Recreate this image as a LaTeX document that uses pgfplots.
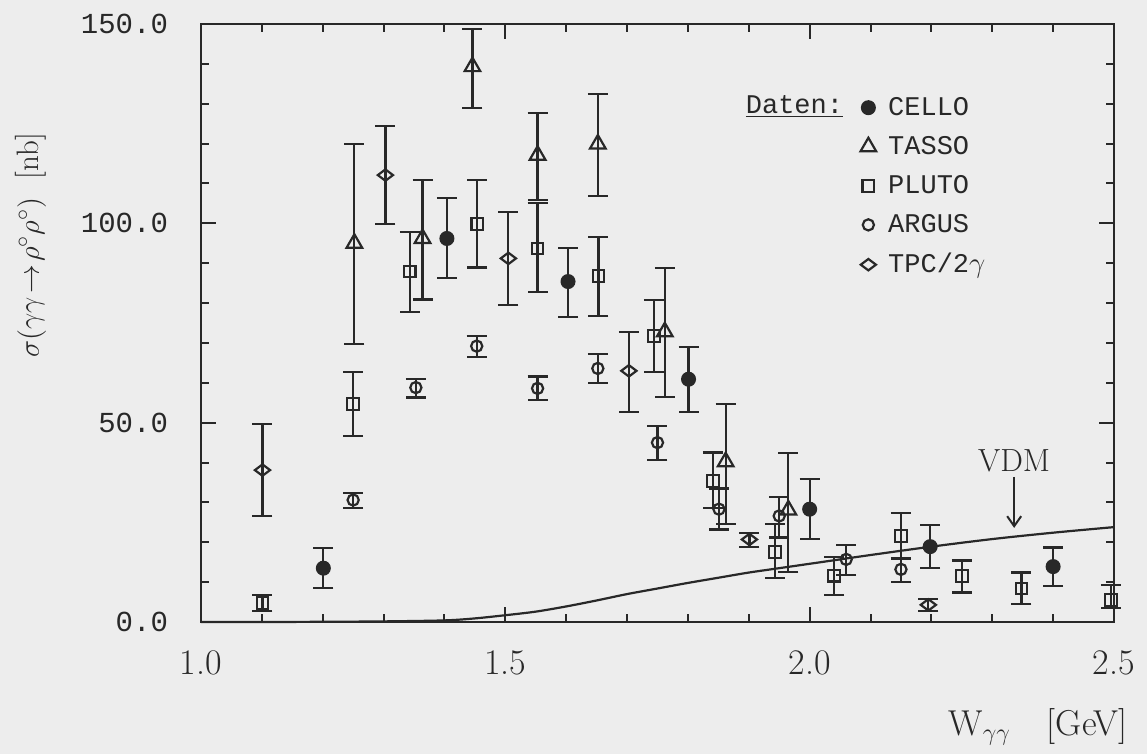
\documentclass[border=0pt]{standalone}
\usepackage{pgfplots}
\pgfplotsset{compat=1.18}
\usepackage{fontspec}
\usetikzlibrary{arrows.meta}
\newfontfamily\monofont{Liberation Mono}
\definecolor{ink}{RGB}{40,40,40}
\definecolor{paper}{RGB}{237,237,237}

\pgfplotstableread{
x y ep em
1.201 13.5 5.0 5.0
1.404 96.2 10.2 10.0
1.603 85.4 8.5 8.8
1.801 60.9 8.0 8.2
2.000 28.3 7.5 7.5
2.198 18.9 5.4 5.4
2.400 13.9 4.8 4.9
}\cello
\pgfplotstableread{
x y ep em
1.252 95.0 24.8 25.3
1.364 96.2 14.6 15.3
1.446 139.3 9.4 10.4
1.553 117.1 10.6 11.3
1.652 119.9 12.5 13.1
1.762 72.8 15.9 16.3
1.862 40.2 14.4 15.6
1.965 28.1 14.2 15.6
}\tasso
\pgfplotstableread{
x y ep em
1.101 4.8 2.0 2.0
1.250 54.7 8.1 8.0
1.343 87.9 10.0 10.1
1.454 99.8 11.0 10.9
1.553 93.7 11.3 11.0
1.653 86.8 9.7 10.0
1.744 71.7 9.1 8.9
1.841 35.4 7.1 6.9
1.943 17.6 6.9 6.5
2.040 11.6 4.8 4.8
2.150 21.6 5.8 5.8
2.250 11.5 3.9 4.1
2.348 8.4 4.0 3.9
2.495 5.5 3.8 1.9
}\pluto
\pgfplotstableread{
x y ep em
1.250 30.6 1.7 2.1
1.353 58.8 2.1 2.5
1.453 69.2 2.5 2.7
1.553 58.6 3.0 3.0
1.652 63.6 3.6 3.7
1.750 45.0 4.2 4.4
1.851 28.3 5.2 5.1
1.950 26.6 4.8 5.4
2.060 15.7 3.6 3.9
2.150 13.2 2.9 3.1
}\argus
\pgfplotstableread{
x y ep em
1.101 38.1 11.6 11.5
1.303 112.1 12.4 12.3
1.505 91.2 11.6 11.7
1.703 63.0 9.8 10.3
1.901 20.7 1.7 1.8
2.195 4.3 1.5 1.5
}\tpc
\pgfplotstableread{
x y
1.00 0.0
1.10 0.0
1.20 0.05
1.30 0.15
1.40 0.4
1.45 0.9
1.50 1.7
1.55 2.6
1.60 3.9
1.65 5.4
1.70 7.0
1.75 8.4
1.80 9.8
1.85 11.1
1.90 12.4
1.95 13.5
2.00 14.6
2.10 16.8
2.20 18.9
2.30 20.8
2.40 22.4
2.50 23.8
}\vdm

\begin{document}
\begin{tikzpicture}
\path[use as bounding box, fill=paper] (-100.5pt,-66pt) rectangle (473pt,311pt);
\begin{axis}[
  at={(0pt,0pt)}, anchor=south west,
  scale only axis, width=456.5pt, height=299pt,
  xmin=1.0, xmax=2.5, ymin=0, ymax=150,
  xtick={1.0,1.5,2.0,2.5}, xticklabels={1.0,1.5,2.0,2.5},
  ytick={0,50,100,150}, yticklabels={0.0,50.0,100.0,150.0},
  minor x tick num=4, minor y tick num=4,
  tick align=inside, major tick length=7.5pt, minor tick length=4pt,
  axis line style={ink, line width=1.2pt},
  tick style={ink, line width=1pt},
  xticklabel style={font=\fontsize{18}{18}\selectfont, text=ink, yshift=-11pt},
  yticklabel style={font=\monofont\fontsize{14.5}{14.5}\selectfont, text=ink, xshift=-13pt},
  clip=false,
  legend cell align=left,
  legend style={at={(rel axis cs:0.722,0.885)}, anchor=north west, draw=none, fill=none,
    font=\monofont\fontsize{13.5}{13.5}\selectfont, text=ink, row sep=5pt, inner sep=0pt,
    /tikz/every odd column/.append style={column sep=4pt}},
  dat/.style={only marks, ink, line width=1.1pt,
    /pgfplots/error bars/y dir=both, /pgfplots/error bars/y explicit,
    /pgfplots/error bars/error bar style={line width=1.1pt, ink},
    /pgfplots/error bars/error mark options={rotate=90, mark size=5pt, line width=1.1pt, ink},
    legend image code/.code={\draw[##1] plot coordinates {(0pt,0pt)};}},
]
\addplot[dat, mark=*, mark size=3.2pt, mark options={fill=ink, draw=ink}]
  table[x=x, y=y, y error plus=ep, y error minus=em]{\cello};
\addlegendentry{CELLO}
\addplot[dat, mark=triangle, mark size=4.5pt, mark options={fill=paper, draw=ink}]
  table[x=x, y=y, y error plus=ep, y error minus=em]{\tasso};
\addlegendentry{TASSO}
\addplot[dat, mark=square, mark size=2.9pt, mark options={fill=paper, draw=ink}]
  table[x=x, y=y, y error plus=ep, y error minus=em]{\pluto};
\addlegendentry{PLUTO}
\addplot[dat, mark=o, mark size=2.8pt, mark options={fill=paper, draw=ink}]
  table[x=x, y=y, y error plus=ep, y error minus=em]{\argus};
\addlegendentry{ARGUS}
\addplot[dat, mark=diamond, mark size=3.8pt, mark options={rotate=90, fill=paper, draw=ink}]
  table[x=x, y=y, y error plus=ep, y error minus=em]{\tpc};
\addlegendentry{TPC/2$\gamma$}
\addplot[ink, line width=1.1pt, smooth, no markers, forget plot] table[x=x, y=y]{\vdm};

\node[anchor=east, font=\monofont\fontsize{13.5}{13.5}\selectfont, text=ink]
  at (rel axis cs:0.711,0.862) {\underline{Daten:}};
\node[font=\fontsize{16}{16}\selectfont, text=ink] at (axis cs:2.336,40.5) {VDM};
\draw[-{Straight Barb[length=5pt,width=7pt]}, ink, line width=1pt]
  (axis cs:2.336,36.4) -- (axis cs:2.336,23.6);
\node[rotate=90, font=\fontsize{15.5}{15.5}\selectfont, text=ink]
  at (rel axis cs:-0.186,0.63) {$\sigma(\gamma\gamma\!\to\!\rho^{\circ}\rho^{\circ})$\ \ [nb]};
\node[font=\fontsize{18}{18}\selectfont, text=ink]
  at (rel axis cs:0.917,-0.176) {W$_{\gamma\gamma}$\quad[GeV]};
\end{axis}
\end{tikzpicture}
\end{document}
